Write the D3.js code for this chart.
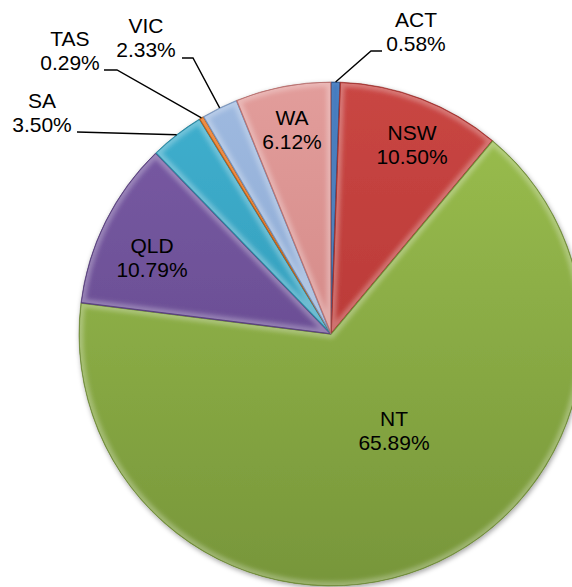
<!DOCTYPE html>
<html>
<head>
<meta charset="utf-8">
<script src="https://cdn.jsdelivr.net/npm/d3@7"></script>
<style>
  html, body { margin: 0; padding: 0; background: #fff; }
  svg { display: block; }
  text { font-family: "Liberation Sans", Arial, sans-serif; }
</style>
</head>
<body>
<svg id="chart" width="572" height="587"></svg>
<script>
// ---- data ----
const categories = ["ACT", "NSW", "NT", "QLD", "SA", "TAS", "VIC", "WA"];
const shares = [0.58, 10.50, 65.89, 10.79, 3.50, 0.29, 2.33, 6.12];
const shareLabels = ["0.58%", "10.50%", "65.89%", "10.79%", "3.50%", "0.29%", "2.33%", "6.12%"];

// ---- styles ----
const topColors    = ["#3F78BE", "#C94643", "#9CC04F", "#7A5CA5", "#40B0CF", "#EE8232", "#9FBAE0", "#E29D9B"];
const bottomColors = ["#2F5E9C", "#AE302D", "#77963A", "#5D4286", "#2A90AC", "#CC6515", "#7F9DCA", "#C97A78"];

// ---- layout ----
const W = 572, H = 587;
const cx = 331, cy = 334, R = 252;
const fontSize = 21, lineGap = 23.5;
// label text positions (center x, first baseline y); outside labels also get an elbow + end for their leader
const labelLayout = {
  ACT: { x: 416, y: 27,  elbow: [371, 51], end: [382, 51] },
  NSW: { x: 412, y: 140 },
  NT:  { x: 394, y: 426 },
  QLD: { x: 152, y: 253 },
  SA:  { x: 42,  y: 108, elbow: [77, 132], end: [77, 132] },
  TAS: { x: 70,  y: 46,  elbow: [117, 70], end: [104, 70] },
  VIC: { x: 146, y: 33,  elbow: [193, 58], end: [182, 58] },
  WA:  { x: 292, y: 125 }
};

const data = categories.map((c, i) => ({ cat: c, value: shares[i], label: shareLabels[i], i }));

const svg = d3.select("#chart");
const defs = svg.append("defs");

// drop shadow
const shadow = defs.append("filter").attr("id", "shadow")
  .attr("x", "-10%").attr("y", "-10%").attr("width", "120%").attr("height", "120%");
shadow.append("feDropShadow").attr("dx", 1).attr("dy", 2).attr("stdDeviation", 2.5)
  .attr("flood-color", "#000").attr("flood-opacity", 0.35);

const blur = defs.append("filter").attr("id", "bevelBlur")
  .attr("x", "-10%").attr("y", "-10%").attr("width", "120%").attr("height", "120%");
blur.append("feGaussianBlur").attr("stdDeviation", 2);

data.forEach(d => {
  const g = defs.append("linearGradient").attr("id", "grad" + d.i)
    .attr("gradientUnits", "userSpaceOnUse")
    .attr("x1", 0).attr("y1", -R).attr("x2", 0).attr("y2", R);
  g.append("stop").attr("offset", "0%").attr("stop-color", topColors[d.i]);
  g.append("stop").attr("offset", "100%").attr("stop-color", bottomColors[d.i]);
});

const pie = d3.pie().value(d => d.value).sort(null);
const arcs = pie(data);
const arc = d3.arc().innerRadius(0).outerRadius(R);
const rim = d3.arc().innerRadius(R).outerRadius(R);

const root = svg.append("g").attr("transform", `translate(${cx},${cy})`);
const pieG = root.append("g").attr("filter", "url(#shadow)");

arcs.forEach(a => {
  defs.append("clipPath").attr("id", "clip" + a.data.i)
    .append("path").attr("d", arc(a));
});

const sliceG = pieG.selectAll("g.slice").data(arcs).join("g").attr("class", "slice");

sliceG.append("path")
  .attr("d", arc)
  .attr("fill", d => `url(#grad${d.data.i})`);

// bevel highlight along slice edges (weaker on very thin slices)
const bevel = sliceG.append("g").attr("clip-path", d => `url(#clip${d.data.i})`);
bevel.append("path")
  .attr("d", arc)
  .attr("fill", "none")
  .attr("stroke", "#ffffff")
  .attr("stroke-opacity", d => (d.endAngle - d.startAngle) < 0.1 ? 0.12 : 0.28)
  .attr("stroke-width", d => (d.endAngle - d.startAngle) < 0.1 ? 4 : 9)
  .attr("filter", "url(#bevelBlur)");
bevel.append("path")
  .attr("d", arc)
  .attr("fill", "none")
  .attr("stroke", d => bottomColors[d.data.i])
  .attr("stroke-opacity", 0.9)
  .attr("stroke-width", 1.6);

// thin outline
sliceG.append("path")
  .attr("d", arc)
  .attr("fill", "none")
  .attr("stroke", d => d3.color(bottomColors[d.data.i]).darker(0.6))
  .attr("stroke-width", 0.6);

// ---- leader lines ----
const outside = arcs.filter(a => labelLayout[a.data.cat].elbow);
svg.append("g").selectAll("path").data(outside).join("path")
  .attr("fill", "none")
  .attr("stroke", "#000")
  .attr("stroke-width", 1.4)
  .attr("d", a => {
    const [rx, ry] = rim.centroid(a);
    const L = labelLayout[a.data.cat];
    return d3.line()([[cx + rx, cy + ry], L.elbow, L.end]);
  });

// ---- labels ----
const lab = svg.append("g").selectAll("text").data(arcs).join("text")
  .attr("text-anchor", "middle")
  .attr("font-size", fontSize)
  .attr("fill", "#000");
lab.append("tspan")
  .attr("x", a => labelLayout[a.data.cat].x)
  .attr("y", a => labelLayout[a.data.cat].y)
  .text(a => a.data.cat);
lab.append("tspan")
  .attr("x", a => labelLayout[a.data.cat].x)
  .attr("y", a => labelLayout[a.data.cat].y + lineGap)
  .text(a => a.data.label);
</script>
</body>
</html>
